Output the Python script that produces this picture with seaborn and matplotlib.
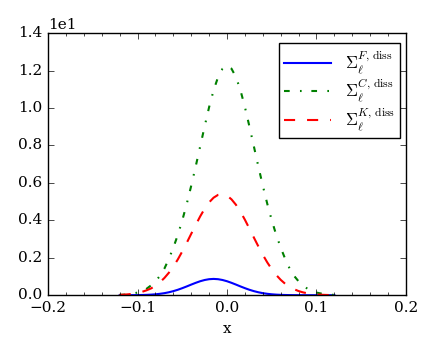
import seaborn as sns
import numpy as np
import pandas as pd
import matplotlib.pyplot as plt
from matplotlib.ticker import AutoMinorLocator

# grid of x values
x = np.round(np.arange(-0.12, 0.12001, 0.005), 3)

sigma_F = [0.0, 0.001, 0.002, 0.003, 0.006, 0.011, 0.018, 0.030, 0.048, 0.074,
           0.109, 0.157, 0.217, 0.290, 0.376, 0.469, 0.567, 0.661, 0.746, 0.812,
           0.855, 0.870, 0.855, 0.812, 0.746, 0.661, 0.567, 0.469, 0.376, 0.290,
           0.217, 0.157, 0.109, 0.074, 0.048, 0.030, 0.018, 0.011, 0.006, 0.003,
           0.002, 0.001, 0.0, 0.0, 0.0, 0.0, 0.0, 0.0, 0.0]
sigma_C = [0.015, 0.030, 0.055, 0.090, 0.140, 0.220, 0.340, 0.520, 0.740, 1.030,
           1.420, 1.940, 2.540, 3.220, 4.000, 4.880, 5.850, 6.880, 7.950, 9.020,
           10.050, 10.950, 11.650, 12.100, 12.250, 12.100, 11.650, 10.950, 10.050, 9.020,
           7.950, 6.880, 5.850, 4.880, 4.000, 3.220, 2.540, 1.940, 1.420, 1.030,
           0.740, 0.520, 0.340, 0.220, 0.140, 0.090, 0.055, 0.030, 0.015]
sigma_K = [0.02, 0.03, 0.05, 0.08, 0.12, 0.18, 0.26, 0.36, 0.50, 0.69,
           0.92, 1.20, 1.53, 1.91, 2.34, 2.80, 3.28, 3.75, 4.21, 4.62,
           4.96, 5.21, 5.36, 5.40, 5.32, 5.12, 4.83, 4.46, 4.03, 3.56,
           3.08, 2.61, 2.16, 1.75, 1.39, 1.08, 0.82, 0.61, 0.44, 0.32,
           0.22, 0.15, 0.10, 0.065, 0.04, 0.025, 0.015, 0.009, 0.005]
labels = [r'$\Sigma_\ell^{F,\,\mathrm{diss}}$',
          r'$\Sigma_\ell^{C,\,\mathrm{diss}}$',
          r'$\Sigma_\ell^{K,\,\mathrm{diss}}$']

plt.style.use('classic')
plt.rcParams['font.family'] = 'serif'
plt.rcParams['font.serif'] = ['DejaVu Serif']
plt.rcParams['mathtext.fontset'] = 'cm'
plt.rcParams['font.size'] = 11
plt.rcParams['figure.facecolor'] = 'white'
plt.rcParams['savefig.facecolor'] = 'white'

df = pd.DataFrame({'x': x, 'F': sigma_F, 'C': sigma_C, 'K': sigma_K})

fig = plt.figure(figsize=(4.37, 3.6), dpi=100)
ax = fig.add_axes([0.11, 0.18, 0.819, 0.728])

sns.lineplot(data=df, x='x', y='F', ax=ax, color='blue', lw=1.5,
             label=labels[0])
sns.lineplot(data=df, x='x', y='C', ax=ax, color='green', lw=1.5,
             linestyle=(0, (4.1, 7.4, 1.2, 7.0)), label=labels[1])
sns.lineplot(data=df, x='x', y='K', ax=ax, color='red', lw=1.5,
             linestyle=(0, (8.0, 8.6)), label=labels[2])

ax.set_xlim(-0.2, 0.2)
ax.set_ylim(0, 14)
ax.set_xlabel('x')
ax.set_ylabel('')
ax.set_xticks([-0.2, -0.1, 0.0, 0.1, 0.2])
ax.xaxis.set_minor_locator(AutoMinorLocator(5))
ax.set_yticks([0, 2, 4, 6, 8, 10, 12, 14])
ax.ticklabel_format(style='sci', axis='y', scilimits=(0, 0))
ax.tick_params(which='both', direction='in', top=True, right=True)

ax.legend(loc='upper right', bbox_to_anchor=(0.983, 0.963), borderaxespad=0,
          fontsize=12, handlelength=2.85, handletextpad=0.8,
          borderpad=0.3, labelspacing=0.05,
          frameon=True, fancybox=False, numpoints=1)

fig.savefig('out.png', dpi=100)
